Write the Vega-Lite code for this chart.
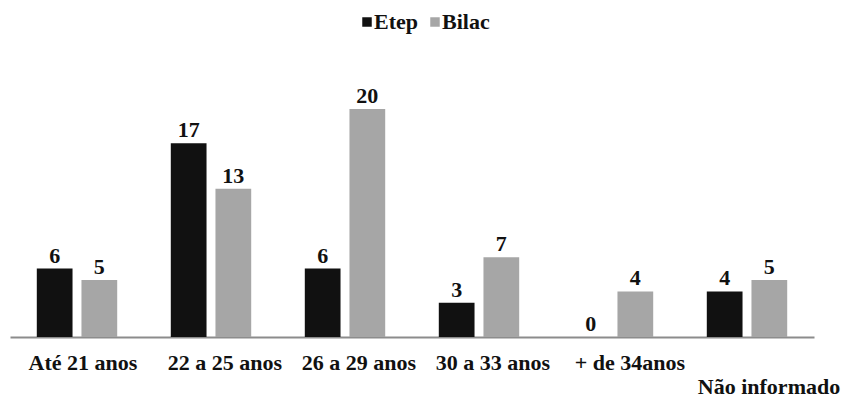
{
  "$schema": "https://vega.github.io/schema/vega-lite/v6.json",
  "width": 804,
  "height": 228,
  "autosize": {"type": "none"},
  "padding": {"left": 10, "top": 109, "right": 33, "bottom": 61},
  "background": "white",
  "config": {"view": {"stroke": null}, "font": "Liberation Serif"},
  "data": {"values": [
    {"faixa": "Até 21 anos", "escola": "Etep", "n": 6},
    {"faixa": "Até 21 anos", "escola": "Bilac", "n": 5},
    {"faixa": "22 a 25 anos", "escola": "Etep", "n": 17},
    {"faixa": "22 a 25 anos", "escola": "Bilac", "n": 13},
    {"faixa": "26 a 29 anos", "escola": "Etep", "n": 6},
    {"faixa": "26 a 29 anos", "escola": "Bilac", "n": 20},
    {"faixa": "30 a 33 anos", "escola": "Etep", "n": 3},
    {"faixa": "30 a 33 anos", "escola": "Bilac", "n": 7},
    {"faixa": "+ de 34anos", "escola": "Etep", "n": 0},
    {"faixa": "+ de 34anos", "escola": "Bilac", "n": 4},
    {"faixa": "Não informado", "escola": "Etep", "n": 4},
    {"faixa": "Não informado", "escola": "Bilac", "n": 5}
  ]},
  "encoding": {
    "x": {
      "field": "faixa", "type": "nominal", "sort": null,
      "scale": {"paddingInner": 0.4, "paddingOuter": 0.2},
      "axis": {
        "title": null, "labelAngle": 0, "ticks": false, "grid": false,
        "domainColor": "#8c8c8c", "domainWidth": 2,
        "labelFont": "Liberation Serif", "labelFontWeight": "bold", "labelFontSize": 22, "labelColor": "#111111",
        "labelPadding": {"condition": {"test": "datum.value === 'Não informado'", "value": 39}, "value": 15},
        "labelOffset": {"condition": [
          {"test": "datum.value === 'Até 21 anos'", "value": 6},
          {"test": "datum.value === '+ de 34anos'", "value": 17},
          {"test": "datum.value === 'Não informado'", "value": 22}
        ], "value": 14},
        "labelBound": false, "labelOverlap": false, "labelLimit": 300
      }
    },
    "xOffset": {"field": "escola", "type": "nominal", "sort": ["Etep", "Bilac"], "scale": {"paddingInner": 0.2}},
    "y": {"field": "n", "type": "quantitative", "scale": {"domain": [0, 20], "nice": false}, "axis": null}
  },
  "layer": [
    {
      "mark": {"type": "bar"},
      "encoding": {
        "color": {
          "field": "escola", "type": "nominal", "sort": ["Etep", "Bilac"],
          "scale": {"domain": ["Etep", "Bilac"], "range": ["#111111", "#a6a6a6"]},
          "legend": {
            "title": null, "orient": "none", "direction": "horizontal",
            "legendX": 346, "legendY": -98,
            "symbolType": "square", "symbolSize": 90, "symbolStrokeWidth": 0, "symbolOffset": 0,
            "labelFont": "Liberation Serif", "labelFontWeight": "bold", "labelFontSize": 22, "labelColor": "#111111",
            "labelOffset": -4, "columnPadding": 6
          }
        }
      }
    },
    {
      "mark": {"type": "text", "baseline": "alphabetic", "dy": -6, "font": "Liberation Serif", "fontWeight": "bold", "fontSize": 22, "color": "#111111"},
      "encoding": {"text": {"field": "n", "type": "quantitative"}}
    }
  ]
}
